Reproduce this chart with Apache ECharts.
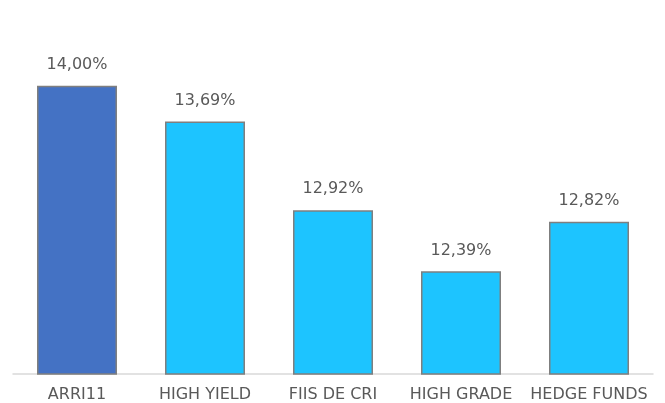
<!DOCTYPE html>
<html><head><meta charset="utf-8">
<script src="https://cdn.jsdelivr.net/npm/echarts@6/dist/echarts.min.js"></script>
<style>html,body{margin:0;padding:0;background:#fff}#c{width:665px;height:403px}</style>
</head><body><div id="c"></div>
<script>
const categories = ["ARRI11", "HIGH YIELD", "FIIS DE CRI", "HIGH GRADE", "HEDGE FUNDS"];
const values = [14.00, 13.69, 12.92, 12.39, 12.82];
const barColors = ["#4472C4", "#1DC4FF", "#1DC4FF", "#1DC4FF", "#1DC4FF"];

const chart = echarts.init(document.getElementById('c'));
chart.setOption({
  animation: false,
  grid: {left: 13, right: 12, top: 28, bottom: 29, containLabel: false},
  xAxis: {
    type: 'category', data: categories,
    axisLine: {lineStyle: {color: '#D9D9D9', width: 1.5}},
    axisTick: {show: false},
    axisLabel: {interval: 0, color: '#595959', fontSize: 16, fontFamily: 'DejaVu Sans', margin: 13}
  },
  yAxis: {type: 'value', min: 11.5, max: 14.5, show: false, splitLine: {show: false}},
  series: [{
    type: 'bar', barWidth: 80,
    data: values.map((v, i) => ({value: v, itemStyle: {color: barColors[i]}})),
    itemStyle: {borderColor: '#7F7F7F', borderWidth: 1.5},
    label: {show: true, position: 'top', distance: 13, color: '#595959', fontSize: 16, fontFamily: 'DejaVu Sans',
      formatter: p => p.value.toFixed(2).replace('.', ',') + '%'}
  }]
});
</script></body></html>
